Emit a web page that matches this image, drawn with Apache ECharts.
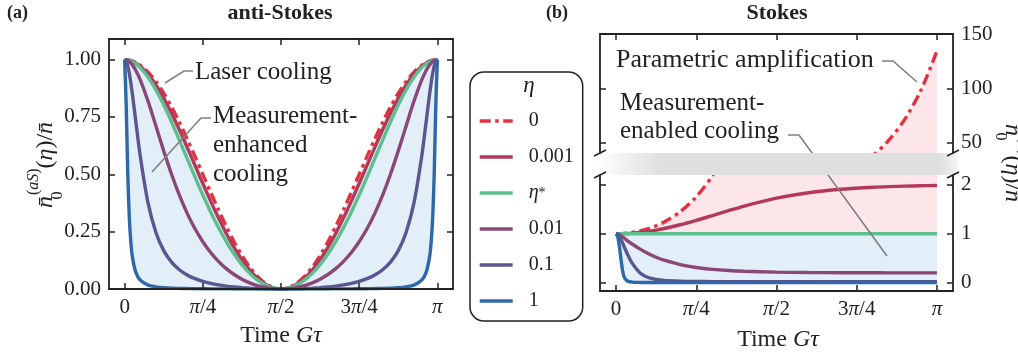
<!DOCTYPE html>
<html>
<head>
<meta charset="utf-8">
<script src="https://cdn.jsdelivr.net/npm/echarts@6/dist/echarts.min.js"></script>
<style>
  html, body { margin: 0; padding: 0; background: #fff; }
  #chart { width: 1018px; height: 360px; }
</style>
</head>
<body>
<div id="chart"></div>
<script>
// time axis in units of pi
var piTicks = [0, 0.25, 0.5, 0.75, 1];
var piLabels = ['0', 'π/4', 'π/2', '3π/4', 'π'];
var antiTicks = [0, 0.25, 0.5, 0.75, 1];
var upperTicks = [50, 100, 150];
var lowerTicks = [0, 1, 2];

var etaNames = ['0', '0.001', 'η*', '0.01', '0.1', '1'];
var etaColors = ['#e4303f', '#b3395b', '#5cbf8e', '#8a4778', '#5a5690', '#2e68a8'];

// (a) anti-Stokes
var xAnti = [0, 0.005, 0.01, 0.015, 0.02, 0.025, 0.035, 0.05, 0.075, 0.1, 0.125, 0.15, 0.175, 0.2, 0.225, 0.25,
  0.275, 0.3, 0.325, 0.35, 0.375, 0.4, 0.425, 0.45, 0.475, 0.5, 0.525, 0.55, 0.575, 0.6, 0.625, 0.65, 0.675,
  0.7, 0.725, 0.75, 0.775, 0.8, 0.825, 0.85, 0.875, 0.9, 0.925, 0.95, 0.965, 0.975, 0.98, 0.985, 0.99, 0.995, 1];
var antiEta0 = [1, 0.9998, 0.999, 0.9978, 0.9961, 0.9938, 0.988, 0.9755, 0.9455, 0.9045, 0.8536, 0.7939, 0.727,
  0.6545, 0.5782, 0.5, 0.4218, 0.3455, 0.273, 0.2061, 0.1464, 0.0955, 0.0545, 0.0245, 0.0062, 0,
  0.0062, 0.0245, 0.0545, 0.0955, 0.1464, 0.2061, 0.273, 0.3455, 0.4218, 0.5, 0.5782, 0.6545, 0.727, 0.7939,
  0.8536, 0.9045, 0.9455, 0.9755, 0.988, 0.9938, 0.9961, 0.9978, 0.999, 0.9998, 1];
var antiEta001 = [1, 0.9997, 0.9988, 0.9974, 0.9954, 0.9928, 0.9859, 0.9714, 0.9366, 0.8897, 0.8323, 0.7664, 0.694,
  0.6174, 0.5387, 0.46, 0.3832, 0.3102, 0.2423, 0.1811, 0.1275, 0.0825, 0.0468, 0.0209, 0.0052, 0,
  0.0052, 0.0209, 0.0468, 0.0825, 0.1275, 0.1811, 0.2423, 0.3102, 0.3832, 0.46, 0.5387, 0.6174, 0.694, 0.7664,
  0.8323, 0.8897, 0.9366, 0.9714, 0.9859, 0.9928, 0.9954, 0.9974, 0.9988, 0.9997, 1];
var antiEtaStar = [1, 0.9996, 0.9986, 0.9968, 0.9943, 0.9912, 0.9828, 0.9651, 0.9234, 0.868, 0.8019, 0.7279, 0.649,
  0.5681, 0.4877, 0.4098, 0.3362, 0.2682, 0.2068, 0.1527, 0.1065, 0.0683, 0.0385, 0.0171, 0.0043, 0,
  0.0043, 0.0171, 0.0385, 0.0683, 0.1065, 0.1527, 0.2068, 0.2682, 0.3362, 0.4098, 0.4877, 0.5681, 0.649, 0.7279,
  0.8019, 0.868, 0.9234, 0.9651, 0.9828, 0.9912, 0.9943, 0.9968, 0.9986, 0.9996, 1];
var antiEta01 = [1, 0.999, 0.9962, 0.9915, 0.985, 0.9767, 0.9552, 0.9119, 0.8184, 0.711, 0.6022, 0.5001, 0.4089,
  0.3298, 0.2626, 0.2062, 0.1593, 0.1206, 0.0889, 0.0632, 0.0427, 0.0267, 0.0147, 0.0065, 0.0016, 0,
  0.0016, 0.0065, 0.0147, 0.0267, 0.0427, 0.0632, 0.0889, 0.1206, 0.1593, 0.2062, 0.2626, 0.3298, 0.4089, 0.5001,
  0.6022, 0.711, 0.8184, 0.9119, 0.9552, 0.9767, 0.985, 0.9915, 0.9962, 0.999, 1];
var antiEta1 = [1, 0.9929, 0.9722, 0.9394, 0.897, 0.8477, 0.7388, 0.5789, 0.3743, 0.2462, 0.1673, 0.1172, 0.0841,
  0.0613, 0.0451, 0.0333, 0.0245, 0.0179, 0.0128, 0.0089, 0.0059, 0.0036, 0.002, 0.0009, 0.0002, 0,
  0.0002, 0.0009, 0.002, 0.0036, 0.0059, 0.0089, 0.0128, 0.0179, 0.0245, 0.0333, 0.0451, 0.0613, 0.0841, 0.1172,
  0.1673, 0.2462, 0.3743, 0.5789, 0.7388, 0.8477, 0.897, 0.9394, 0.9722, 0.9929, 1];
var antiEtaOne = [1, 0.8019, 0.5029, 0.31, 0.2015, 0.1389, 0.0758, 0.0383, 0.017, 0.0094, 0.0058, 0.0038, 0.0027,
  0.0019, 0.0014, 0.001, 0.0007, 0.0005, 0.0004, 0.0003, 0.0002, 0.0001, 0, 0, 0, 0,
  0, 0, 0, 0.0001, 0.0002, 0.0003, 0.0004, 0.0005, 0.0007, 0.001, 0.0014, 0.0019, 0.0027, 0.0038,
  0.0058, 0.0094, 0.017, 0.0383, 0.0758, 0.1389, 0.2015, 0.31, 0.5029, 0.8019, 1];

// (b) Stokes
var xStokes = [0, 0.005, 0.01, 0.015, 0.02, 0.025, 0.035, 0.05, 0.075, 0.1, 0.125, 0.15, 0.2, 0.25, 0.3, 0.35, 0.4,
  0.5, 0.6, 0.7, 0.8, 0.85, 0.9, 0.95, 1];
var stokesEta0 = [1, 1.0002, 1.001, 1.0022, 1.0039, 1.0062, 1.0121, 1.0249, 1.0566, 1.1021, 1.1623, 1.239, 1.449,
  1.7546, 2.1845, 2.781, 3.607, 6.296, 11.36, 20.8, 38.6, 52.6, 71.9, 98.4, 134.4];
var stokesEta001 = [1, 1.0001, 1.0005, 1.0011, 1.0019, 1.0031, 1.006, 1.0123, 1.0275, 1.0486, 1.0751, 1.1067, 1.1833,
  1.274, 1.372, 1.471, 1.566, 1.726, 1.838, 1.908, 1.949, 1.963, 1.973, 1.98, 1.985];
var stokesEtaStar = [1, 1, 1, 1, 1, 1, 1, 1, 1, 1, 1, 1, 1, 1, 1, 1, 1, 1, 1, 1, 1, 1, 1, 1, 1];
var stokesEta01 = [1, 0.995, 0.982, 0.962, 0.938, 0.912, 0.86, 0.79, 0.685, 0.595, 0.52, 0.46, 0.37, 0.31, 0.272,
  0.248, 0.233, 0.216, 0.208, 0.204, 0.202, 0.201, 0.2, 0.2, 0.2];
var stokesEta1 = [1, 0.985, 0.945, 0.885, 0.815, 0.74, 0.59, 0.4, 0.2, 0.105, 0.065, 0.045, 0.031, 0.025, 0.022,
  0.021, 0.02, 0.02, 0.02, 0.02, 0.02, 0.02, 0.02, 0.02, 0.02];
var stokesEtaOne = [1, 0.94, 0.76, 0.5, 0.26, 0.12, 0.035, 0.012, 0.005, 0.003, 0.0025, 0.002, 0.002, 0.002, 0.002,
  0.002, 0.002, 0.002, 0.002, 0.002, 0.002, 0.002, 0.002, 0.002, 0.002];

var antiCurves = [antiEta0, antiEta001, antiEtaStar, antiEta01, antiEta1, antiEtaOne];
var stokesCurves = [stokesEta0, stokesEta001, stokesEtaStar, stokesEta01, stokesEta1, stokesEtaOne];

var FONT = "'Liberation Serif', 'DejaVu Serif', serif";
var INK = '#222222';
var POINTER = '#808080';
var LIGHT_BLUE = '#e2eef8';
var PINK = '#fde6ea';
var DASH_DOT = [11, 4.5, 3.5, 4.5];

function pairs(xs, ys) {
  return xs.map(function (x, i) { return [x, ys[i]]; });
}

function piFormatter(v) {
  var i = piTicks.indexOf(v);
  return i < 0 ? '' : piLabels[i].replace('π', '{p|π}');
}

var labelBase = { color: INK, fontFamily: FONT, fontSize: 21 };

function xAxisFor(grid, pos, showLabels) {
  return {
    type: 'value', gridIndex: grid, position: pos, min: -0.05, max: 1.05, z: 5,
    axisLine: { show: true, onZero: false, lineStyle: { color: INK, width: 1.8 } },
    axisTick: { show: true, inside: true, length: 6, customValues: piTicks, lineStyle: { color: INK, width: 1.5 } },
    axisLabel: Object.assign({ show: showLabels, customValues: piTicks, margin: 8, formatter: piFormatter,
      rich: { p: { fontFamily: FONT, fontStyle: 'italic', fontSize: 21, color: INK } } }, labelBase),
    splitLine: { show: false }
  };
}

function yAxisFor(grid, pos, min, max, ticks, showLabels, fmt) {
  return {
    type: 'value', gridIndex: grid, position: pos, min: min, max: max, z: 5,
    axisLine: { show: true, onZero: false, lineStyle: { color: INK, width: 1.8 } },
    axisTick: { show: true, inside: true, length: 6, customValues: ticks, lineStyle: { color: INK, width: 1.5 } },
    axisLabel: Object.assign({ show: showLabels, customValues: ticks, margin: 8, formatter: fmt }, labelBase),
    splitLine: { show: false }
  };
}

function fillSeries(name, xs, ys, color, xi, yi) {
  return {
    name: name, type: 'line', xAxisIndex: xi, yAxisIndex: yi, data: pairs(xs, ys),
    symbol: 'none', smooth: 0.3, silent: true, z: 1,
    lineStyle: { width: 0 }, areaStyle: { color: color, opacity: 1, origin: 'start' }
  };
}

function curveSeries(k, xs, ys, xi, yi) {
  return {
    name: etaNames[k], type: 'line', xAxisIndex: xi, yAxisIndex: yi, data: pairs(xs, ys),
    symbol: 'none', smooth: 0.3, z: 2,
    itemStyle: { color: etaColors[k] },
    lineStyle: { color: etaColors[k], width: 3.4, type: k === 0 ? DASH_DOT : 'solid', cap: 'butt' }
  };
}

var series = [];
// anti-Stokes
series.push(fillSeries('fa1', xAnti, antiEta0, LIGHT_BLUE, 0, 0));
series.push(fillSeries('fa2', xAnti, antiEtaOne, '#ffffff', 0, 0));
antiCurves.forEach(function (c, k) { series.push(curveSeries(k, xAnti, c, 0, 0)); });
// Stokes, upper part of the broken axis
series.push(fillSeries('fs0', xStokes, stokesEta0, PINK, 2, 2));
series.push(curveSeries(0, xStokes, stokesEta0, 2, 2));
// Stokes, lower part
series.push(fillSeries('fs1', xStokes, stokesEta0, PINK, 3, 4));
series.push(fillSeries('fs2', xStokes, stokesEtaStar, LIGHT_BLUE, 3, 4));
series.push(fillSeries('fs3', xStokes, stokesEtaOne, '#ffffff', 3, 4));
stokesCurves.forEach(function (c, k) { series.push(curveSeries(k, xStokes, c, 3, 4)); });

function txt(x, y, text, size, extra) {
  var st = Object.assign({ text: text, x: 0, y: 0, fill: INK, fontFamily: FONT, fontSize: size,
    align: 'left', verticalAlign: 'middle', textAlign: 'left', textVerticalAlign: 'middle' }, extra || {});
  if (st.align !== 'left') st.textAlign = st.align;
  return { type: 'text', x: x, y: y, silent: true, z: 100, style: st };
}

function pline(points) {
  return { type: 'polyline', silent: true, z: 100, shape: { points: points },
    style: { stroke: POINTER, lineWidth: 1.6, fill: null } };
}

function brk(x, y) {
  return { type: 'line', silent: true, z: 102, shape: { x1: x - 6, y1: y + 3, x2: x + 6, y2: y - 3 },
    style: { stroke: INK, lineWidth: 1.5 } };
}

// sub token is given almost no width so the superscript stacks above it
var mathRich = {
  mi: { fontFamily: FONT, fontStyle: 'italic', fontSize: 24, lineHeight: 40, verticalAlign: 'middle', color: INK },
  mr: { fontFamily: FONT, fontSize: 24, lineHeight: 40, verticalAlign: 'middle', color: INK },
  sb: { fontFamily: FONT, fontSize: 16, lineHeight: 22, width: 1, verticalAlign: 'bottom', color: INK },
  sp: { fontFamily: FONT, fontSize: 16, lineHeight: 20, verticalAlign: 'top', color: INK },
  spi: { fontFamily: FONT, fontStyle: 'italic', fontSize: 16, lineHeight: 20, verticalAlign: 'top', color: INK }
};
var nbar = 'n\u0304';
var timeRich = {
  r: { fontFamily: FONT, fontSize: 24, color: INK },
  i: { fontFamily: FONT, fontStyle: 'italic', fontSize: 24, color: INK }
};

var graphics = [
  txt(7, 13, '(a)', 18, { fontWeight: 'bold' }),
  txt(280, 13, 'anti-Stokes', 22, { fontWeight: 'bold', align: 'center' }),
  txt(546, 13, '(b)', 18, { fontWeight: 'bold' }),
  txt(777, 13, 'Stokes', 22, { fontWeight: 'bold', align: 'center' }),
  txt(281, 336, '{r|Time }{i|Gτ}', 24, { align: 'center', rich: timeRich }),
  txt(778, 340, '{r|Time }{i|Gτ}', 24, { align: 'center', rich: timeRich }),
  Object.assign(txt(46, 165, '{mi|' + nbar + '}{sb|0}{sp|(}{spi|aS}{sp|)}{mr|(}{mi|η}{mr|)/}{mi|' + nbar + '}', 24,
    { align: 'center', rich: mathRich }), { rotation: Math.PI / 2 }),
  Object.assign(txt(1012, 163, '{mi|' + nbar + '}{sb|0}{sp|(}{spi|S}{sp|)}{mr|(}{mi|η}{mr|)/}{mi|' + nbar + '}', 24,
    { align: 'center', rich: mathRich }), { rotation: -Math.PI / 2 }),
  // legend title
  txt(529, 86, 'η', 23, { fontStyle: 'italic', align: 'center' }),
  // annotations
  txt(195, 72, 'Laser cooling', 25),
  pline([[165, 83], [184, 71], [193, 71]]),
  txt(213, 116.5, 'Measurement-', 25),
  txt(213, 145.5, 'enhanced', 25),
  txt(213, 174.5, 'cooling', 25),
  pline([[152, 172], [201, 118], [211, 118]]),
  txt(616, 60, 'Parametric amplification', 26),
  pline([[882, 61], [893, 61], [917, 82]]),
  txt(620, 103.5, 'Measurement-', 25),
  txt(620, 131.5, 'enabled cooling', 25),
  pline([[788, 135], [799, 135], [887, 256]]),
  // axis break band
  { type: 'rect', silent: true, z: 101, shape: { x: 597, y: 153, width: 361, height: 22 },
    style: { fill: { type: 'linear', x: 0, y: 0, x2: 1, y2: 0, colorStops: [
      { offset: 0, color: 'rgba(222,223,224,0)' }, { offset: 0.18, color: 'rgba(222,223,224,1)' },
      { offset: 0.95, color: 'rgba(222,223,224,1)' }, { offset: 1, color: 'rgba(222,223,224,0.3)' }] } } },
  brk(600, 153), brk(600, 175), brk(953, 153), brk(953, 175)
];

var chart = echarts.init(document.getElementById('chart'), null, { renderer: 'canvas' });
chart.setOption({
  animation: false,
  backgroundColor: '#ffffff',
  textStyle: { fontFamily: FONT },
  grid: [
    { left: 109, top: 39, width: 344, height: 250, outerBoundsMode: 'none' },
    { left: 600, top: 34, width: 353, height: 119, outerBoundsMode: 'none' },
    { left: 600, top: 175, width: 353, height: 116, outerBoundsMode: 'none' }
  ],
  xAxis: [
    xAxisFor(0, 'bottom', true),
    xAxisFor(0, 'top', false),
    xAxisFor(1, 'top', false),
    xAxisFor(2, 'bottom', true)
  ],
  yAxis: [
    yAxisFor(0, 'left', 0, 1.09, antiTicks, true, function (v) { return v.toFixed(2); }),
    yAxisFor(0, 'right', 0, 1.09, antiTicks, false),
    yAxisFor(1, 'left', 40.8, 150, upperTicks, false),
    yAxisFor(1, 'right', 40.8, 150, upperTicks, true, function (v) { return String(v); }),
    yAxisFor(2, 'left', -0.17, 2.2, lowerTicks, false),
    yAxisFor(2, 'right', -0.17, 2.2, lowerTicks, true, function (v) { return String(v); })
  ],
  legend: {
    data: etaNames, orient: 'vertical', left: 470, top: 72,
    padding: [39, 9, 10, 8], itemWidth: 33, itemHeight: 14, itemGap: 16,
    borderColor: INK, borderWidth: 1.5, borderRadius: 14, backgroundColor: '#ffffff',
    selectedMode: false, z: 10,
    itemStyle: { opacity: 0 },
    lineStyle: { width: 'inherit' },
    formatter: function (name) { return name === 'η*' ? '{e|η}{s|*}' : name; },
    textStyle: { fontFamily: FONT, fontSize: 20, lineHeight: 14, color: INK, padding: [0, 0, 0, 11],
      rich: {
        e: { fontFamily: FONT, fontStyle: 'italic', fontSize: 20, lineHeight: 14, verticalAlign: 'middle', color: INK },
        s: { fontFamily: FONT, fontSize: 14, lineHeight: 8, verticalAlign: 'top', color: INK }
      } }
  },
  graphic: graphics,
  series: series
});
</script>
</body>
</html>
